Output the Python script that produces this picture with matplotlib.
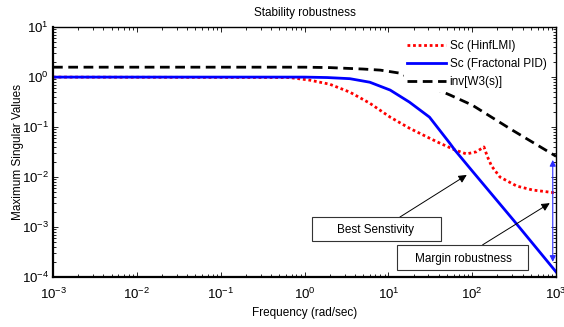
import numpy as np
import matplotlib
matplotlib.use("Agg")
import matplotlib.pyplot as plt
from matplotlib.patches import Rectangle
from matplotlib.ticker import LogLocator, NullFormatter

plt.rcParams['font.family'] = ['Liberation Sans', 'DejaVu Sans']
plt.rcParams['font.size'] = 8

# ------------------------------------------------------------------
# data (frequency in rad/s, singular values)
# ------------------------------------------------------------------
w_hinf = [0.001, 0.66, 1.15, 2.0, 3.47, 6.0, 10.5, 17.8, 30.9, 40.7, 61.7,
          85, 112, 138, 151, 170, 214, 339, 525, 1000]
sc_hinf = [1.0, 0.98, 0.87, 0.72, 0.50, 0.30, 0.158, 0.095, 0.060, 0.048,
           0.035, 0.029, 0.032, 0.040, 0.026, 0.0166, 0.010, 0.0066, 0.0055, 0.0048]

w_pid = [0.001, 1.0, 1.86, 3.47, 6.0, 10.5, 17.8, 30.9, 53.7, 61.7, 100, 316, 1000]
sc_pid = [1.0, 1.0, 0.98, 0.93, 0.79, 0.55, 0.316, 0.158, 0.048, 0.035,
          0.0132, 0.00132, 0.000126]

w_w3 = [0.001, 1.0, 2.0, 5.0, 8.0, 13.7, 25, 54, 100, 300, 1000]
inv_w3 = [1.58, 1.58, 1.55, 1.45, 1.38, 1.2, 0.76, 0.44, 0.275, 0.087, 0.026]

labels = ['Sc (HinfLMI)', 'Sc (Fractonal PID)', 'inv[W3(s)]']

# ------------------------------------------------------------------
fig = plt.figure(figsize=(5.64, 3.27), dpi=100)
ax = fig.add_axes([0.094, 0.153, 0.892, 0.764])

ax.loglog(w_hinf, sc_hinf, c='red', lw=2, ls=(0, (1, 1)), label=labels[0])
ax.loglog(w_pid, sc_pid, c='blue', lw=2, label=labels[1])
ax.loglog(w_w3, inv_w3, c='black', lw=2, ls=(0, (3.5, 2)), label=labels[2])

ax.set_xlim(1e-3, 1e3)
ax.set_ylim(1e-4, 1e1)

ax.xaxis.set_major_locator(LogLocator(base=10, numticks=10))
ax.xaxis.set_minor_locator(LogLocator(base=10, subs=np.arange(2, 10), numticks=20))
ax.yaxis.set_major_locator(LogLocator(base=10, numticks=10))
ax.yaxis.set_minor_locator(LogLocator(base=10, subs=np.arange(2, 10), numticks=20))
ax.xaxis.set_minor_formatter(NullFormatter())
ax.yaxis.set_minor_formatter(NullFormatter())

ax.tick_params(which='both', direction='in', top=True, right=True, width=0.6,
               labelsize=9.5)
ax.tick_params(which='major', length=3.5)
ax.tick_params(which='minor', length=2)
ax.tick_params(axis='x', pad=7)
ax.tick_params(axis='y', pad=3)
for s in ['left', 'bottom']:
    ax.spines[s].set_linewidth(1.6)
for s in ['top', 'right']:
    ax.spines[s].set_linewidth(1.0)

ax.set_title('Stability robustness', fontsize=8.5, pad=8)
ax.set_xlabel('Frequency (rad/sec)', fontsize=8.5)
ax.set_ylabel('Maximum Singular Values', fontsize=8.5)
ax.xaxis.set_label_coords(0.5, -0.12)
ax.yaxis.set_label_coords(-0.058, 0.5)

leg = ax.legend(loc='upper right', frameon=True, fancybox=False, fontsize=8.5,
                handlelength=3.3, handletextpad=0.3, labelspacing=0.5,
                borderaxespad=0.3, borderpad=0.3, bbox_to_anchor=(0.995, 0.975))
leg.get_frame().set_edgecolor('none')
leg.get_frame().set_facecolor('white')
leg.get_frame().set_alpha(1)

# annotation boxes
ax.add_patch(Rectangle((0.515, 0.144), 0.256, 0.096, transform=ax.transAxes,
                       fc='white', ec='#333333', lw=0.8, zorder=5))
ax.text(0.642, 0.188, 'Best Senstivity', transform=ax.transAxes,
        ha='center', va='center', fontsize=8.5, zorder=6)
ax.add_patch(Rectangle((0.684, 0.028), 0.260, 0.100, transform=ax.transAxes,
                       fc='white', ec='#333333', lw=0.8, zorder=5))
ax.text(0.815, 0.072, 'Margin robustness', transform=ax.transAxes,
        ha='center', va='center', fontsize=8.5, zorder=6)

ax.annotate('', xy=(86, 0.011), xytext=(13.7, 1.58e-3),
            arrowprops=dict(arrowstyle='-|>', color='black', lw=0.7,
                            mutation_scale=12, shrinkA=0, shrinkB=0), zorder=4)
ax.annotate('', xy=(840, 3.0e-3), xytext=(133, 4.4e-4),
            arrowprops=dict(arrowstyle='-|>', color='black', lw=0.7,
                            mutation_scale=12, shrinkA=0, shrinkB=0), zorder=4)
ax.annotate('', xy=(912, 0.022), xytext=(912, 2.0e-4),
            arrowprops=dict(arrowstyle='<|-|>', color='#2b2bff', lw=0.8,
                            mutation_scale=9, shrinkA=0, shrinkB=0), zorder=4)

fig.savefig('out.png', dpi=100)
